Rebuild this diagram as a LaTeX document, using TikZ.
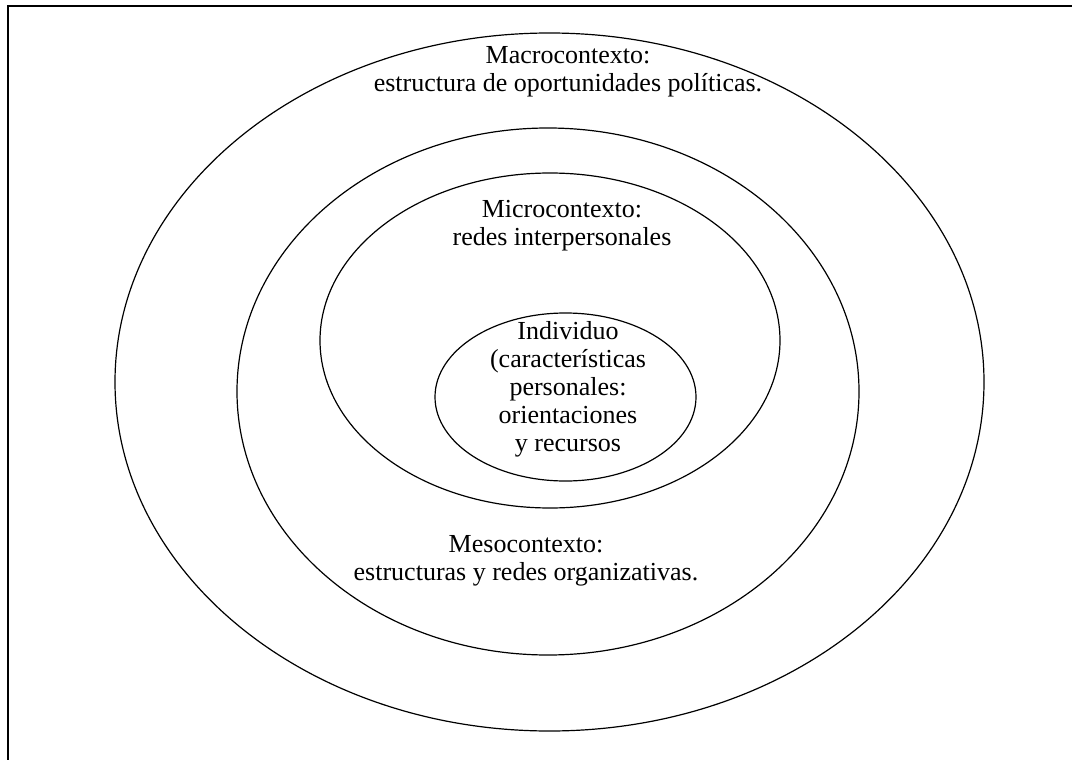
\documentclass[tikz,border=0pt]{standalone}
\usepackage{fontspec}
\setmainfont{Liberation Serif}
\begin{document}
\begin{tikzpicture}[x=0.5pt,y=-0.5pt,
  ring/.style={draw=black, line width=0.6pt},
  frame/.style={draw=black, line width=1pt},
  lbl/.style={align=center, font=\fontsize{13}{14}\selectfont, inner sep=0pt, anchor=base}]
\useasboundingbox (0,0) rectangle (1072,760);
% frame (only top and left edges visible)
\draw[frame] (8,760) -- (8,6) -- (1072,6);
% nested contexts
\draw[ring] (549.5,382) ellipse [x radius=434.5, y radius=349];
\draw[ring] (548,391.5) ellipse [x radius=311, y radius=263.5];
\draw[ring] (550,340.5) ellipse [x radius=230, y radius=167.5];
\draw[ring] (565.5,397) ellipse [x radius=130.5, y radius=84];
% labels (base anchor = baseline of the last line)
\node[lbl] (macro) at (568,91.7) {Macrocontexto:\\estructura de oportunidades políticas.};
\node[lbl] (micro) at (562,245) {Microcontexto:\\redes interpersonales};
\node[lbl] (indiv) at (568,451.7) {Individuo\\(características\\personales:\\orientaciones\\y recursos};
\node[lbl] (meso) at (526,580) {Mesocontexto:\\estructuras y redes organizativas.};
\end{tikzpicture}
\end{document}
